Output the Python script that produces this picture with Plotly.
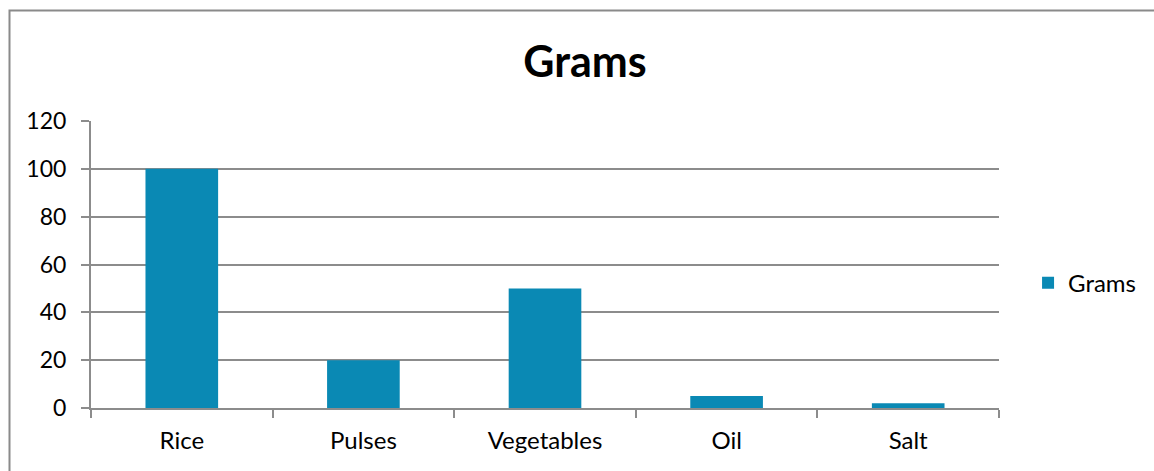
import plotly.graph_objects as go

categories = ["Rice", "Pulses", "Vegetables", "Oil", "Salt"]
grams = [100, 20, 50, 5, 2]
y_ticks = [0, 20, 40, 60, 80, 100, 120]

BAR = "#0A89B4"
GRID = "#8C8C8C"
FONT = "Lato, 'Open Sans', sans-serif"

fig = go.Figure(
    go.Bar(
        x=categories,
        y=grams,
        name="Grams",
        marker=dict(color=BAR, line=dict(width=0)),
        showlegend=True,
    )
)

fig.update_layout(
    width=1154,
    height=471,
    margin=dict(l=91, r=155, t=121, b=63),
    paper_bgcolor="white",
    plot_bgcolor="white",
    bargap=0.6,
    font=dict(family=FONT, size=24, color="#000000"),
    title=dict(
        text="<b>Grams</b>",
        x=585 / 1154,
        xref="container",
        xanchor="center",
        y=1 - 62 / 471,
        yref="container",
        yanchor="middle",
        font=dict(family=FONT, size=43, color="#000000"),
    ),
    legend=dict(
        x=1.032,
        y=0.435,
        xanchor="left",
        yanchor="middle",
        font=dict(family=FONT, size=24),
        itemwidth=30,
        bgcolor="rgba(0,0,0,0)",
    ),
    showlegend=True,
)

fig.update_xaxes(
    type="category",
    showline=True,
    linecolor=GRID,
    linewidth=2,
    ticks="outside",
    tickson="boundaries",
    ticklen=8,
    tickwidth=2,
    tickcolor=GRID,
    showgrid=False,
    ticklabelstandoff=10,
    tickfont=dict(size=24),
)

fig.update_yaxes(
    range=[0, 120],
    tickvals=y_ticks,
    showline=True,
    linecolor=GRID,
    linewidth=2,
    ticks="outside",
    ticklen=8,
    tickwidth=2,
    tickcolor=GRID,
    showgrid=True,
    gridcolor=GRID,
    gridwidth=2,
    zeroline=False,
    ticklabelstandoff=10,
    tickfont=dict(size=23),
)

# Outer chart border (right and bottom edges run past the page)
fig.add_shape(
    type="rect",
    xref="paper",
    yref="paper",
    x0=(9.5 - 91) / 908,
    x1=1.25,
    y0=-0.3,
    y1=(408 - 10.5) / 287,
    line=dict(color="#8A8A8A", width=2),
    fillcolor="rgba(0,0,0,0)",
    layer="below",
)

fig.write_html("out.html")
